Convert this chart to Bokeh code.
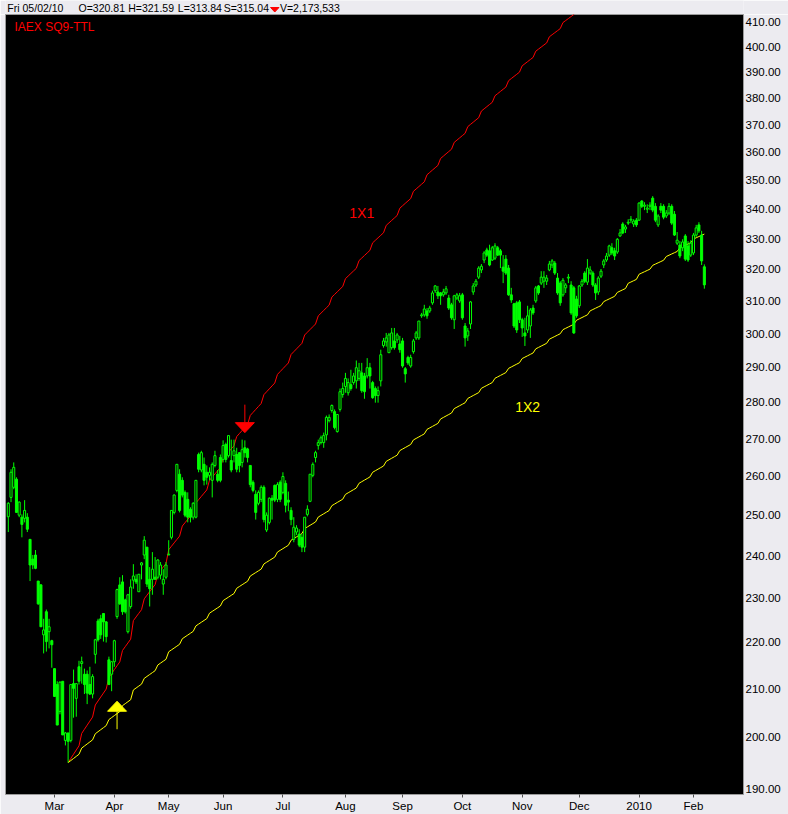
import numpy as np
import pandas as pd
from bokeh.plotting import figure
from bokeh.models import FixedTicker, NumeralTickFormatter, Label, ColumnDataSource
from bokeh.layouts import column
from bokeh.embed import file_html
from bokeh.resources import INLINE
from bokeh.core.properties import value

# ---------------- data (daily OHLC, AEX, 05/02/2009 .. 05/02/2010) ----------------
opens = [
    249.6, 254.5, 257.1, 259.2, 250.0, 249.5, 249.2, 249.5, 244.0, 239.2,
    240.2, 234.0, 233.1, 221.7, 226.9, 222.4, 220.4, 214.3, 210.9, 205.3,
    211.6, 199.4, 200.9, 199.4, 211.1, 208.0, 214.7, 215.4, 213.1, 213.1,
    210.9, 208.9, 217.4, 224.8, 225.3, 226.5, 224.6, 216.2, 213.1, 215.8,
    225.8, 233.1, 233.8, 229.6, 222.4, 228.1, 234.2, 234.4, 231.5, 237.8,
    240.2, 242.1, 234.4, 234.4, 234.9, 234.9, 235.4, 233.3, 234.9, 240.2,
    244.5, 250.7, 256.3, 260.5, 258.9, 255.8, 254.0, 251.5, 249.5, 249.5,
    265.7, 261.6, 263.1, 261.0, 260.2, 258.9, 262.8, 260.5, 264.9, 264.4,
    268.4, 265.4, 264.1, 265.4, 265.7, 266.2,
    263.6, 267.5, 267.2, 262.8, 258.4, 255.3, 253.0, 254.0, 257.1, 246.3,
    248.2, 254.3, 257.6, 254.0, 258.4, 255.8, 258.1, 253.8, 251.2, 244.0,
    245.8, 245.3, 244.5, 242.1, 250.2, 253.5, 260.2, 264.9, 268.1, 268.9,
    268.9, 271.0, 274.9, 277.7, 277.4, 271.9, 278.0, 282.2, 284.5, 282.7,
    285.0, 285.6, 286.1, 286.8, 288.4, 287.5, 287.5, 289.9, 285.6, 283.9,
    281.9, 286.1, 296.4, 297.5, 294.3, 295.8, 297.8, 298.1, 296.9, 297.8,
    289.6, 292.9, 290.4, 294.6, 298.7, 298.7, 305.4, 305.7, 306.9, 306.9,
    309.4, 313.2, 312.8, 312.5, 311.9, 312.5, 310.9, 308.8, 304.2, 310.9,
    310.0, 311.9, 302.3, 299.3, 302.9, 312.8, 315.0, 317.5, 319.8, 323.0,
    326.3, 326.0, 323.0, 323.6, 327.0, 326.0, 320.7, 323.3, 320.4, 311.9,
    309.1, 309.4, 309.7, 304.2, 300.2, 301.1, 302.3, 307.8, 310.0, 314.7,
    315.6, 316.2, 316.2, 319.8, 321.4, 322.0, 317.2, 315.6, 311.9, 314.1,
    317.2, 315.0, 314.1, 310.6, 308.5, 315.0, 318.8, 315.9, 318.8, 318.8,
    315.0, 312.8, 317.8, 321.4, 323.0, 324.6, 327.0, 326.0, 325.6, 330.9,
    334.9, 333.2, 335.2, 336.2, 334.9, 336.2, 336.2, 342.7, 340.9, 339.9,
    340.9, 343.7, 340.9, 334.6, 340.9, 340.9, 337.6, 338.6, 340.9, 338.2,
    328.5, 327.9, 327.0, 330.9, 327.6, 324.6, 325.3, 331.2, 334.6, 331.2,
    320.81,
]
highs = [
    253.3, 261.8, 263.6, 259.7, 253.5, 250.2, 253.8, 250.5, 244.0, 240.2,
    241.4, 234.0, 233.3, 225.3, 227.4, 225.3, 220.6, 214.3, 211.6, 211.6,
    211.6, 201.1, 200.9, 210.9, 214.1, 211.1, 216.0, 216.9, 214.3, 213.9,
    214.7, 213.1, 220.8, 225.3, 226.2, 226.5, 224.8, 216.9, 215.8, 220.6,
    232.2, 234.9, 235.4, 229.9, 231.0, 234.4, 238.0, 235.6, 235.6, 238.5,
    244.8, 242.1, 237.3, 240.9, 239.7, 239.2, 238.5, 236.8, 238.5, 243.8,
    251.2, 255.3, 263.1, 261.8, 259.7, 256.3, 255.8, 252.0, 253.3, 258.9,
    266.2, 266.7, 264.9, 262.8, 262.3, 263.6, 266.7, 261.6, 265.7, 269.5,
    268.9, 270.8, 269.7, 269.7, 267.5, 266.2,
    269.7, 269.5, 267.5, 262.8, 258.9, 256.3, 256.3, 257.6, 257.6, 250.7,
    254.5, 255.1, 257.8, 258.4, 258.9, 261.0, 258.9, 256.0, 252.0, 249.5,
    247.5, 246.5, 245.3, 249.5, 252.5, 260.5, 263.6, 266.7, 269.7, 270.8,
    271.6, 276.3, 276.6, 279.4, 278.0, 276.6, 283.9, 285.6, 288.4, 286.8,
    289.3, 288.4, 292.0, 291.3, 291.3, 288.4, 292.7, 291.3, 286.1, 284.5,
    284.5, 295.2, 298.7, 300.2, 300.2, 301.7, 301.7, 300.2, 299.3, 298.7,
    290.1, 293.4, 293.7, 298.4, 300.8, 303.8, 306.3, 308.8, 307.8, 308.5,
    313.2, 315.0, 314.7, 312.8, 313.8, 314.7, 311.9, 309.4, 311.9, 312.5,
    312.5, 312.5, 303.2, 301.7, 310.0, 315.6, 316.9, 321.0, 321.7, 325.9,
    327.0, 328.0, 327.6, 328.5, 327.6, 326.6, 324.6, 324.6, 321.4, 314.1,
    309.4, 310.0, 310.3, 304.8, 304.8, 308.5, 307.8, 308.8, 314.7, 315.0,
    319.4, 319.4, 318.2, 322.7, 323.3, 322.7, 318.8, 316.2, 317.2, 315.6,
    318.5, 316.2, 314.7, 311.6, 315.0, 316.9, 319.4, 323.3, 321.0, 319.4,
    315.6, 317.8, 320.1, 323.3, 325.3, 328.0, 328.5, 327.0, 330.2, 333.2,
    335.5, 334.6, 336.5, 337.6, 336.5, 336.9, 342.3, 343.0, 342.3, 341.6,
    342.3, 344.4, 342.0, 338.2, 342.0, 341.6, 339.6, 342.0, 341.6, 339.3,
    332.2, 329.2, 329.8, 331.5, 329.2, 329.5, 331.9, 334.6, 335.5, 332.6,
    321.59,
]
lows = [
    245.8, 253.3, 256.6, 250.7, 249.5, 244.5, 248.2, 245.8, 234.0, 236.8,
    236.8, 228.5, 223.5, 217.6, 218.0, 218.7, 214.5, 208.4, 202.5, 204.7,
    200.5, 198.4, 195.0, 199.0, 204.0, 204.2, 210.9, 211.1, 208.9, 206.8,
    208.7, 208.0, 215.4, 220.2, 220.8, 220.2, 220.0, 210.9, 209.5, 214.7,
    225.3, 228.5, 226.2, 226.5, 222.0, 227.6, 232.2, 233.3, 231.5, 234.4,
    239.2, 232.6, 228.1, 230.8, 234.4, 234.4, 234.4, 230.8, 234.4, 240.2,
    244.0, 250.2, 255.8, 250.7, 254.5, 249.5, 248.2, 248.2, 248.9, 249.2,
    261.0, 261.0, 257.6, 257.8, 258.9, 254.5, 262.3, 258.4, 258.4, 263.6,
    263.6, 264.9, 261.0, 263.6, 261.0, 261.0,
    262.3, 264.9, 263.6, 257.1, 255.8, 248.9, 252.5, 253.3, 248.2, 245.8,
    247.7, 248.9, 253.3, 253.3, 253.3, 255.3, 250.7, 251.0, 247.5, 243.3,
    245.1, 242.1, 240.9, 240.9, 249.7, 253.3, 259.7, 263.6, 267.0, 268.4,
    267.5, 269.5, 274.4, 277.1, 272.5, 271.6, 277.4, 281.3, 282.7, 281.9,
    283.3, 285.0, 283.9, 286.1, 282.7, 281.0, 286.8, 283.9, 281.0, 279.9,
    279.9, 284.5, 295.8, 296.1, 294.3, 295.2, 295.2, 297.2, 294.3, 289.9,
    285.6, 290.7, 289.9, 294.0, 298.1, 298.1, 304.8, 305.1, 304.5, 306.3,
    308.8, 312.5, 310.6, 308.8, 311.3, 311.9, 307.2, 304.2, 301.4, 310.3,
    309.4, 304.2, 296.1, 297.8, 301.4, 311.9, 314.4, 316.9, 318.8, 322.0,
    324.0, 321.0, 322.7, 323.0, 324.3, 320.4, 315.6, 318.2, 311.6, 309.4,
    301.7, 300.2, 303.2, 299.0, 296.3, 300.2, 298.7, 305.7, 309.4, 311.9,
    315.0, 314.1, 315.0, 319.4, 320.4, 318.2, 311.9, 308.5, 311.3, 312.5,
    315.6, 305.7, 299.9, 304.8, 307.8, 314.4, 315.6, 315.0, 318.2, 314.4,
    310.3, 311.9, 317.2, 320.4, 322.4, 324.0, 324.6, 323.0, 325.0, 330.6,
    331.5, 331.9, 334.6, 335.2, 333.9, 333.9, 335.9, 340.3, 339.6, 338.6,
    339.6, 338.9, 335.5, 333.9, 338.6, 336.5, 336.9, 337.9, 334.6, 330.9,
    327.9, 323.6, 325.9, 322.7, 322.4, 324.0, 324.6, 330.6, 331.9, 321.4,
    313.84,
]
closes = [
    253.0, 261.0, 262.3, 250.7, 253.3, 247.7, 251.2, 246.5, 237.8, 237.8,
    237.0, 228.7, 223.5, 222.8, 220.2, 223.5, 219.5, 208.4, 202.5, 211.4,
    200.5, 200.9, 199.2, 210.9, 210.1, 211.1, 211.6, 215.8, 210.9, 209.1,
    208.9, 212.6, 220.6, 220.6, 221.7, 224.6, 221.3, 210.9, 215.8, 220.4,
    232.0, 228.7, 226.9, 226.9, 230.8, 232.6, 235.2, 233.8, 235.6, 238.3,
    243.8, 233.3, 232.2, 236.8, 234.4, 239.0, 237.8, 234.4, 237.8, 240.4,
    251.2, 255.1, 263.1, 251.2, 255.1, 250.0, 249.5, 249.5, 253.0, 258.9,
    261.8, 266.2, 258.9, 259.7, 261.0, 263.1, 265.4, 258.9, 258.9, 268.1,
    264.4, 270.8, 261.6, 266.7, 261.8, 262.8,
    267.0, 266.2, 264.9, 257.8, 256.3, 250.7, 255.8, 257.1, 248.9, 250.0,
    254.3, 253.8, 253.8, 257.8, 254.0, 259.9, 252.5, 253.3, 248.9, 247.0,
    246.8, 242.6, 242.1, 249.5, 251.5, 260.5, 263.1, 266.2, 268.9, 270.2,
    270.8, 275.8, 275.8, 279.1, 273.0, 276.6, 283.0, 283.9, 286.8, 285.6,
    283.9, 287.5, 289.9, 289.0, 283.3, 283.0, 289.9, 287.5, 281.3, 281.9,
    283.3, 293.7, 297.8, 298.7, 299.6, 300.2, 295.8, 299.6, 295.2, 290.4,
    288.1, 291.3, 292.9, 297.8, 300.2, 303.8, 305.7, 307.5, 305.4, 307.8,
    312.5, 314.7, 311.6, 311.6, 312.8, 313.8, 307.8, 304.8, 311.6, 311.9,
    311.6, 304.8, 298.7, 300.8, 309.7, 314.7, 316.2, 320.4, 321.0, 325.3,
    324.6, 321.4, 327.0, 327.6, 324.6, 324.6, 319.4, 318.8, 311.9, 310.3,
    302.3, 301.1, 304.2, 301.7, 299.3, 305.4, 307.2, 306.3, 314.1, 312.5,
    317.5, 317.5, 317.2, 321.7, 322.7, 318.8, 312.5, 309.4, 316.5, 315.0,
    317.5, 306.3, 300.2, 305.4, 314.7, 316.2, 316.2, 320.4, 319.8, 315.0,
    312.5, 317.2, 319.4, 322.7, 324.3, 327.6, 325.3, 324.3, 329.8, 331.9,
    331.9, 333.9, 335.5, 336.5, 335.9, 334.6, 342.0, 340.9, 341.3, 340.3,
    341.3, 339.6, 336.2, 337.6, 339.6, 337.2, 338.6, 340.9, 335.2, 331.2,
    329.5, 324.3, 328.9, 323.3, 323.0, 328.5, 331.2, 333.6, 332.6, 322.7,
    315.04,
]
last_volume = 2173533
last_day = "2010-02-05"
holidays = ["2009-04-10", "2009-04-13", "2009-05-01", "2009-12-25", "2010-01-01"]
instrument = "IAEX SQ9-TTL"
price_ticks = list(range(190, 411, 10))
month_names = {2: "Feb", 3: "Mar", 4: "Apr", 5: "May", 6: "Jun", 7: "Jul",
               8: "Aug", 9: "Sep", 10: "Oct", 11: "Nov", 12: "Dec"}

# Gann fan from the March 2009 low
gann_start_date = "2009-03-09"
gann_start_price = 195.0
gann_names = ["1X1", "1X2"]
gann_slopes = [0.83, 0.41]          # points per calendar day
gann_colors = ["#FF0000", "#FFFF00"]
gann_label_dates = ["2009-08-11", "2009-11-04"]
gann_label_prices = [338.5, 278.6]

# signal arrows
signal_dates = ["2009-04-02", "2009-06-11"]
signal_prices = [207.4, 271.6]
signal_dirs = ["up", "down"]
signal_colors = ["#FFFF00", "#FF0000"]

# ---------------- derived ----------------
n = len(closes)
bdays = pd.bdate_range("2008-12-01", last_day)
bdays = bdays[~bdays.isin(pd.to_datetime(holidays))]
dates = bdays[-n:]
idx = np.arange(n)
pos = {d.strftime("%Y-%m-%d"): i for i, d in enumerate(dates)}

o = np.array(opens); h = np.array(highs); l = np.array(lows); c = np.array(closes)
up = c >= o

BG = "#ECEBF0"
GREEN = "#00FF00"
FONT = "Liberation Sans"
W = 788
HDR_H = 14
MAIN_H = 800
B_LEFT, B_RIGHT, B_BOTTOM = 5, 45, 20
XR = (-1.03, 270.4)
YR = (188.86, 413.3)
FRAME_W = W - B_LEFT - B_RIGHT
FRAME_H = MAIN_H - B_BOTTOM
ppx = FRAME_W / (XR[1] - XR[0])
ppl = FRAME_H / np.log(YR[1] / YR[0])

p = figure(width=W, height=MAIN_H, x_range=XR, y_range=YR, y_axis_type="log",
           y_axis_location="right", toolbar_location=None, output_backend="svg",
           min_border_left=B_LEFT, min_border_right=B_RIGHT, min_border_top=0,
           min_border_bottom=B_BOTTOM, background_fill_color="black", border_fill_color=BG)
p.outline_line_color = "#9A9A9A"
p.xgrid.visible = False
p.ygrid.visible = False

# Gann lines (calendar-day based, hence the weekly steps)
start = pd.Timestamp(gann_start_date)
mask = dates >= start
gi = idx[mask]
days = np.array([(d - start).days for d in dates[mask]])
for name, k, col, ld, lp in zip(gann_names, gann_slopes, gann_colors, gann_label_dates, gann_label_prices):
    p.line(gi, gann_start_price + k * days, line_color=col, line_width=1)
    p.text(x=[pos[ld]], y=[lp], text=[name], text_color=col, text_font=value(FONT),
           text_font_size="14px", text_align="center", text_baseline="middle")

# candles
src = ColumnDataSource(dict(x=idx, o=o, h=h, l=l, c=c,
                            top=np.maximum(o, c), bot=np.minimum(o, c),
                            fill=np.where(up, "black", GREEN)))
p.segment(x0="x", y0="l", x1="x", y1="h", source=src, line_color=GREEN, line_width=1)
p.vbar(x="x", width=0.75, top="top", bottom="bot", source=src,
       fill_color="fill", line_color=GREEN, line_width=1)

# arrows
hw = 9.5 / ppx
for d, pr, direc, col in zip(signal_dates, signal_prices, signal_dirs, signal_colors):
    xi = pos[d]
    sgn = 1 if direc == "down" else -1
    base = pr * np.exp(sgn * 10 / ppl)
    tail = base * np.exp(sgn * 18 / ppl)
    p.segment(x0=[xi], y0=[base], x1=[xi], y1=[tail], line_color=col, line_width=1)
    p.patch([xi - hw, xi + hw, xi], [base, base, pr], fill_color=col, line_color=col, line_width=1)

# axes
ya = p.yaxis[0]
ya.ticker = FixedTicker(ticks=price_ticks)
ya.formatter = NumeralTickFormatter(format="0.00")
ya.major_tick_out = 0
ya.major_tick_in = 0
ya.minor_tick_line_color = None
ya.major_tick_line_color = None
ya.axis_line_color = None
ya.major_label_standoff = 2
ya.major_label_text_font = FONT
ya.major_label_text_font_size = "11.5px"
ya.major_label_text_color = "black"

mticks, mlabels = [], {}
for i in range(1, n):
    if dates[i].month != dates[i - 1].month:
        mticks.append(i)
        mlabels[i] = str(dates[i].year) if dates[i].month == 1 else month_names[dates[i].month]
xa = p.xaxis[0]
xa.ticker = FixedTicker(ticks=mticks)
xa.major_label_overrides = mlabels
xa.major_tick_out = 3
xa.major_tick_in = 0
xa.major_tick_line_color = "#505050"
xa.minor_tick_line_color = None
xa.axis_line_color = None
xa.major_label_standoff = 2
xa.major_label_text_font = FONT
xa.major_label_text_font_size = "11.5px"
xa.major_label_text_color = "black"

# instrument name inside the frame (top-left)
p.add_layout(Label(x=9, y=FRAME_H - 19, x_units="screen", y_units="screen", text=instrument,
                   text_color="#FF0000", text_font=FONT, text_font_size="12px"))

# header strip (values of the last bar)
hdr = figure(width=W, height=HDR_H, x_range=(0, W), y_range=(HDR_H, 0), toolbar_location=None,
             output_backend="svg", min_border=0, x_axis_location=None, y_axis_location=None,
             background_fill_color=BG, border_fill_color=BG)
hdr.outline_line_color = None
hdr.xgrid.visible = False
hdr.ygrid.visible = False
ld = dates[-1]
htexts = [ld.strftime("%a %d/%m/%y"), "O=%.2f" % opens[-1], "H=%.2f" % highs[-1],
          "L=%.2f" % lows[-1], "S=%.2f" % closes[-1], "V={:,}".format(last_volume)]
hx = [2, 78, 131, 184, 233, 293]
hdr.text(x=hx, y=[7] * len(hx), text=htexts, text_color="black", text_font=value(FONT),
         text_font_size="10.5px", text_baseline="middle", text_align="left")
hdr.patch([283, 292, 287.5], [7, 7, 11.5], fill_color="#FF0000", line_color="#FF0000")

layout = column(hdr, p, spacing=0)
open("out.html", "w").write(file_html(layout, INLINE))
